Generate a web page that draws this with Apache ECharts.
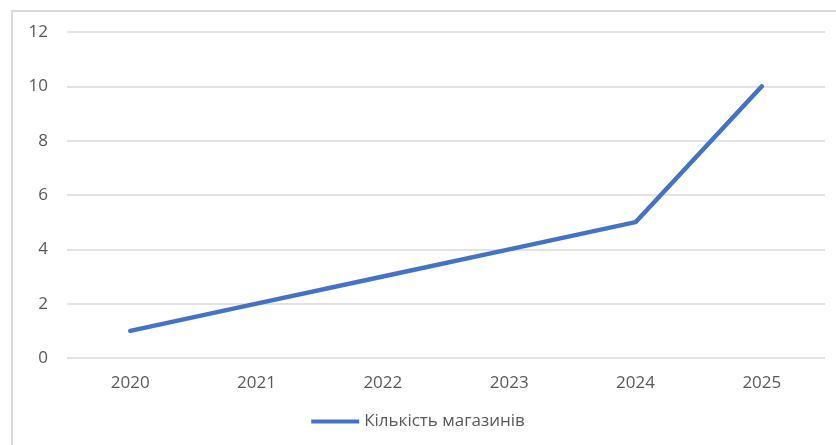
<!DOCTYPE html>
<html>
<head>
<meta charset="utf-8">
<script src="https://cdn.jsdelivr.net/npm/echarts@6/dist/echarts.min.js"></script>
<style>
  html, body { margin: 0; padding: 0; background: #fff; }
  #frame { position: absolute; left: 11px; top: 10px; width: 840px; height: 450px;
           border: 2px solid #d9d9d9; box-sizing: border-box; }
  #chart { position: absolute; left: 0; top: 0; width: 836px; height: 445px; }
</style>
</head>
<body>
<div id="frame"></div>
<div id="chart"></div>
<script>
// Store count by year
const years = ['2020', '2021', '2022', '2023', '2024', '2025'];
const storeCounts = [1, 2, 3, 4, 5, 10];
const seriesName = 'Кількість магазинів';
const yTicks = { min: 0, max: 12, step: 2 };

const chart = echarts.init(document.getElementById('chart'));
const font = 'Open Sans, Noto Sans, sans-serif';
chart.setOption({
  animation: false,
  textStyle: { fontFamily: font },
  grid: { left: 67, right: 11, top: 32, bottom: 87, containLabel: false },
  legend: {
    bottom: 10,
    left: 'center',
    itemWidth: 48,
    itemHeight: 4,
    itemGap: 6,
    icon: 'rect',
    textStyle: { color: '#595959', fontSize: 17, fontFamily: font },
    data: [seriesName]
  },
  xAxis: {
    type: 'category',
    data: years,
    boundaryGap: true,
    axisLine: { show: false },
    axisTick: { show: false },
    axisLabel: { color: '#595959', fontSize: 17, margin: 17 }
  },
  yAxis: {
    type: 'value',
    min: yTicks.min,
    max: yTicks.max,
    interval: yTicks.step,
    axisLine: { show: false },
    axisTick: { show: false },
    axisLabel: { color: '#595959', fontSize: 17, margin: 19 },
    splitLine: { lineStyle: { color: '#d9d9d9', width: 1.5 } }
  },
  series: [{
    name: seriesName,
    type: 'line',
    data: storeCounts,
    symbol: 'none',
    color: '#4472C4',
    lineStyle: { width: 4.5, cap: 'round', join: 'round' }
  }]
});
</script>
</body>
</html>
